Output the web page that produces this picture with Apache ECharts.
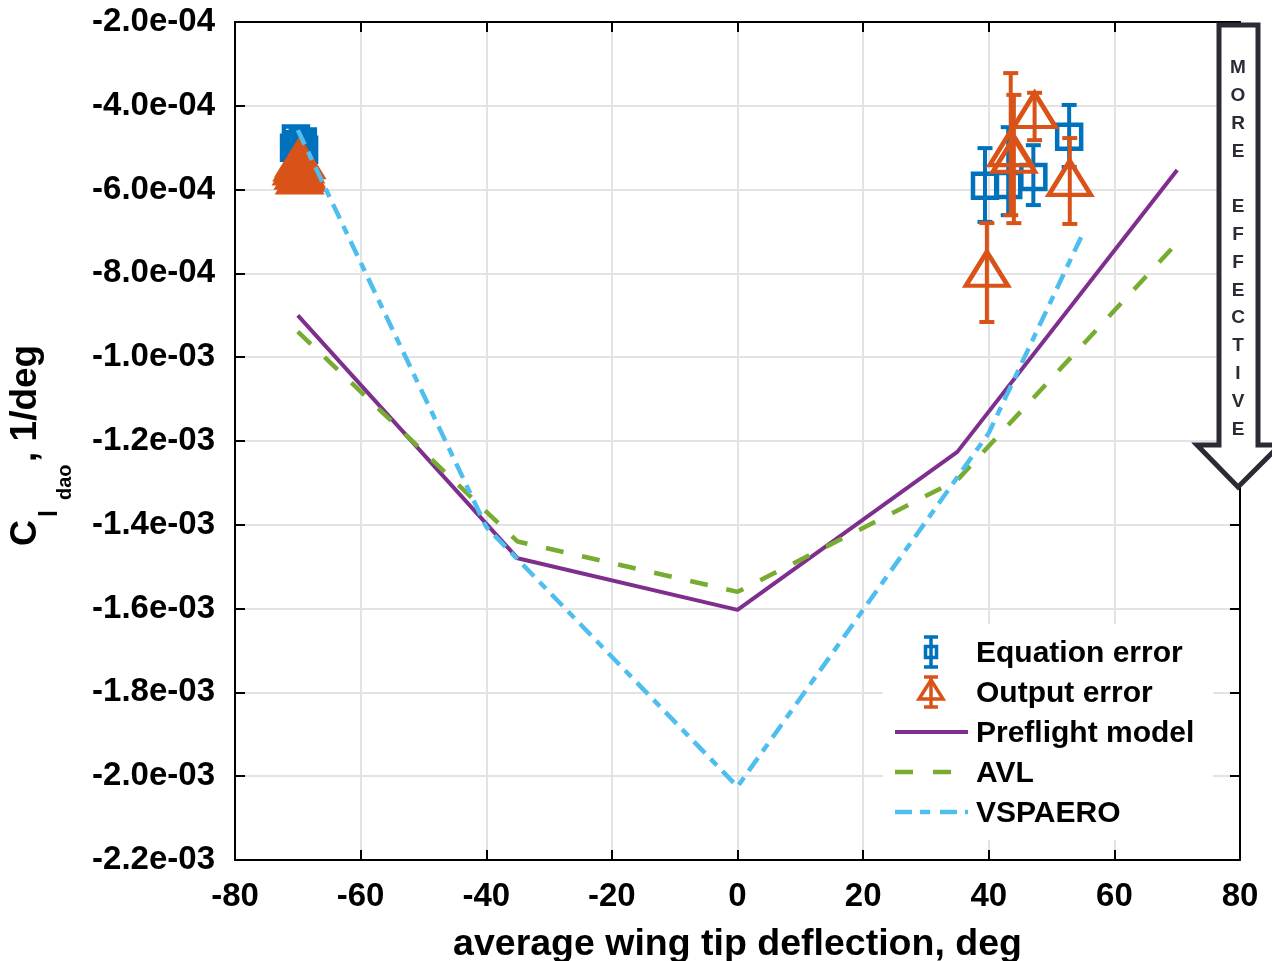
<!DOCTYPE html>
<html><head><meta charset="utf-8">
<script src="https://cdn.jsdelivr.net/npm/echarts@6/dist/echarts.min.js"></script>
<style>html,body{margin:0;padding:0;background:#fff}#c{width:1272px;height:961px}</style>
</head><body><div id="c"></div>
<script>
// ---- data ----
const yTickLabels = ['-2.2e-03','-2.0e-03','-1.8e-03','-1.6e-03','-1.4e-03','-1.2e-03','-1.0e-03','-8.0e-04','-6.0e-04','-4.0e-04','-2.0e-04'];
const xTickLabels = ['-80','-60','-40','-20','0','20','40','60','80'];

const preflightX = [-70, -35, 0, 35, 70];
const preflightY = [-9.0e-4, -1.48e-3, -1.603e-3, -1.226e-3, -5.53e-4];

const avlX = [-70, -35, 0, 35, 70];
const avlY = [-9.39e-4, -1.44e-3, -1.56e-3, -1.293e-3, -7.27e-4];

const vspX = [-70, -40, 0, 40, 55];
const vspY = [-4.58e-4, -1.405e-3, -2.025e-3, -1.181e-3, -7.04e-4];

const eqX  = [-70.3, -69.2, -69.8, -70.6, -69.0, -69.6, -70.1, -69.4, 39.4, 43.1, 47.1, 52.8];
const eqY  = [-4.78e-4, -4.85e-4, -4.92e-4, -5.00e-4, -5.05e-4, -5.12e-4, -5.18e-4, -5.25e-4, -5.91e-4, -5.89e-4, -5.70e-4, -4.74e-4];
const eqLo = [-4.84e-4, -4.91e-4, -4.98e-4, -5.06e-4, -5.11e-4, -5.18e-4, -5.24e-4, -5.31e-4, -6.77e-4, -6.61e-4, -6.37e-4, -5.46e-4];
const eqHi = [-4.72e-4, -4.79e-4, -4.86e-4, -4.94e-4, -4.99e-4, -5.06e-4, -5.12e-4, -5.19e-4, -5.01e-4, -4.51e-4, -4.94e-4, -3.98e-4];

const outX  = [-69.8, -69.4, -70.1, -69.6, -70.2, -69.5, -69.9, -69.3, -69.7, 39.7, 43.5, 44.0, 47.3, 52.9];
const outY  = [-5.25e-4, -5.30e-4, -5.35e-4, -5.40e-4, -5.45e-4, -5.50e-4, -5.55e-4, -5.60e-4, -5.66e-4, -7.89e-4, -5.01e-4, -5.17e-4, -4.10e-4, -5.72e-4];
const outLo = [-5.31e-4, -5.36e-4, -5.41e-4, -5.46e-4, -5.51e-4, -5.56e-4, -5.61e-4, -5.66e-4, -5.72e-4, -9.16e-4, -6.61e-4, -6.80e-4, -4.82e-4, -6.82e-4];
const outHi = [-5.19e-4, -5.24e-4, -5.29e-4, -5.34e-4, -5.39e-4, -5.44e-4, -5.49e-4, -5.54e-4, -5.60e-4, -6.80e-4, -3.22e-4, -3.74e-4, -3.69e-4, -4.77e-4];

// ---- styles ----
const FONT = "'Liberation Sans', Arial, Helvetica, sans-serif";
const C_EQ = '#0072BD', C_OUT = '#D95319', C_PRE = '#7E2F8E', C_AVL = '#77AC30', C_VSP = '#4DBEEE';

function pairs(xs, ys){ return xs.map((x,i)=>[x, ys[i]]); }
function triples(xs, lo, hi){ return xs.map((x,i)=>[x, lo[i], hi[i]]); }

function errRender(color){
  return function(params, api){
    const x = api.value(0), lo = api.value(1), hi = api.value(2);
    const a = api.coord([x, lo]), b = api.coord([x, hi]);
    const w = 7.5;
    const st = {stroke: color, lineWidth: 4};
    return {type:'group', children:[
      {type:'line', shape:{x1:a[0], y1:a[1], x2:b[0], y2:b[1]}, style:st},
      {type:'line', shape:{x1:a[0]-w, y1:a[1], x2:a[0]+w, y2:a[1]}, style:st},
      {type:'line', shape:{x1:b[0]-w, y1:b[1], x2:b[0]+w, y2:b[1]}, style:st}
    ]};
  };
}

const axisCommon = {
  axisLine: {show:true, onZero:false, lineStyle:{color:'#000', width:2}},
  axisTick: {show:true, inside:true, length:10, lineStyle:{color:'#000', width:2}},
};

const chart = echarts.init(document.getElementById('c'), null, {renderer:'canvas'});

const legendX = 895, legendTextX = 976, rows = [652, 692, 732, 772, 812];

const option = {
  animation: false,
  backgroundColor: '#fff',
  grid: {left:235, right:32, top:22, bottom:101, containLabel:false, outerBoundsMode:'none'},
  xAxis: [
    Object.assign({}, axisCommon, {
      type:'value', min:-80, max:80, interval:20, position:'bottom',
      axisLabel:{show:true, color:'#000', fontFamily:FONT, fontWeight:'bold', fontSize:33, margin:20,
        formatter:(v,i)=> xTickLabels[i] !== undefined ? xTickLabels[i] : String(v)},
      splitLine:{show:true, lineStyle:{color:'#e3e3e3', width:2}},
      name:'average wing tip deflection, deg', nameLocation:'middle', nameGap:66,
      nameTextStyle:{color:'#000', fontFamily:FONT, fontWeight:'bold', fontSize:37.5}
    }),
    Object.assign({}, axisCommon, {
      type:'value', min:-80, max:80, interval:20, position:'top',
      axisLabel:{show:false}, splitLine:{show:false}
    })
  ],
  yAxis: [
    Object.assign({}, axisCommon, {
      type:'value', min:-2.2e-3, max:-2e-4, interval:2e-4, position:'left',
      axisLabel:{show:true, color:'#000', fontFamily:FONT, fontWeight:'bold', fontSize:33, margin:20,
        formatter:(v,i)=> yTickLabels[i] !== undefined ? yTickLabels[i] : String(v)},
      splitLine:{show:true, lineStyle:{color:'#e3e3e3', width:2}}
    }),
    Object.assign({}, axisCommon, {
      type:'value', min:-2.2e-3, max:-2e-4, interval:2e-4, position:'right',
      axisLabel:{show:false}, splitLine:{show:false}
    })
  ],
  series: [
    {type:'custom', name:'Equation error bars', renderItem: errRender(C_EQ),
      data: triples(eqX, eqLo, eqHi), encode:{x:0, y:[1,2]}, z:2, silent:true},
    {type:'scatter', name:'Equation error', data: pairs(eqX, eqY), symbol:'rect', symbolSize:24,
      itemStyle:{color:'rgba(0,0,0,0)', borderColor:C_EQ, borderWidth:4.5, opacity:1}, z:3, silent:true},
    {type:'custom', name:'Output error bars', renderItem: errRender(C_OUT),
      data: triples(outX, outLo, outHi), encode:{x:0, y:[1,2]}, z:4, silent:true},
    {type:'scatter', name:'Output error', data: pairs(outX, outY), symbol:'triangle', symbolSize:[42,34],
      itemStyle:{color:'rgba(0,0,0,0)', borderColor:C_OUT, borderWidth:4.5, opacity:1}, z:5, silent:true},
    {type:'line', name:'Preflight model', data: pairs(preflightX, preflightY), symbol:'none',
      lineStyle:{color:C_PRE, width:4}, z:6, silent:true},
    {type:'line', name:'AVL', data: pairs(avlX, avlY), symbol:'none',
      lineStyle:{color:C_AVL, width:4.5, type:[18,19], cap:'butt'}, z:7, silent:true},
    {type:'line', name:'VSPAERO', data: pairs(vspX, vspY), symbol:'none',
      lineStyle:{color:C_VSP, width:4.5, type:[16,8,9,8], cap:'butt'}, z:8, silent:true}
  ],
  graphic: [
    // y axis title
    {type:'text', x:26, y:546, rotation:Math.PI/2, z:100,
      style:{text:'C', font:`bold 36px ${FONT}`, fill:'#000', textAlign:'left', textVerticalAlign:'middle'}},
    {type:'text', x:50, y:517, rotation:Math.PI/2, z:100,
      style:{text:'l', font:`bold 25px ${FONT}`, fill:'#000', textAlign:'left', textVerticalAlign:'middle'}},
    {type:'text', x:65, y:500, rotation:Math.PI/2, z:100,
      style:{text:'dao', font:`bold 20px ${FONT}`, fill:'#000', textAlign:'left', textVerticalAlign:'middle'}},
    {type:'text', x:26, y:462, rotation:Math.PI/2, z:100,
      style:{text:', 1/deg', font:`bold 37px ${FONT}`, fill:'#000', textAlign:'left', textVerticalAlign:'middle'}},
    // legend
    {type:'rect', shape:{x:883, y:624, width:330, height:216}, style:{fill:'#fff'}, z:100, silent:true},
    {type:'group', z:101, children:[
      {type:'line', shape:{x1:931,y1:637,x2:931,y2:667}, style:{stroke:C_EQ, lineWidth:3.5}, z:101},
      {type:'line', shape:{x1:924,y1:637,x2:938,y2:637}, style:{stroke:C_EQ, lineWidth:3.5}, z:101},
      {type:'line', shape:{x1:924,y1:667,x2:938,y2:667}, style:{stroke:C_EQ, lineWidth:3.5}, z:101},
      {type:'rect', shape:{x:925.5,y:646.5,width:11,height:11}, style:{stroke:C_EQ, fill:'none', lineWidth:3.5}, z:101},
      {type:'line', shape:{x1:931,y1:677,x2:931,y2:707}, style:{stroke:C_OUT, lineWidth:3.5}, z:101},
      {type:'line', shape:{x1:924,y1:677,x2:938,y2:677}, style:{stroke:C_OUT, lineWidth:3.5}, z:101},
      {type:'line', shape:{x1:924,y1:707,x2:938,y2:707}, style:{stroke:C_OUT, lineWidth:3.5}, z:101},
      {type:'polygon', shape:{points:[[931,680],[943,699],[919,699]]}, style:{stroke:C_OUT, fill:'none', lineWidth:3.5}, z:101},
      {type:'line', shape:{x1:legendX,y1:rows[2],x2:968,y2:rows[2]}, style:{stroke:C_PRE, lineWidth:4}, z:101},
      {type:'line', shape:{x1:legendX,y1:rows[3],x2:968,y2:rows[3]}, style:{stroke:C_AVL, lineWidth:4.5, lineDash:[18,20]}, z:101},
      {type:'line', shape:{x1:legendX,y1:rows[4],x2:968,y2:rows[4]}, style:{stroke:C_VSP, lineWidth:4.5, lineDash:[17,8,10,10]}, z:101},
      {type:'text', x:legendTextX, y:rows[0]+2, style:{text:'Equation error', font:`bold 30px ${FONT}`, fill:'#000', textVerticalAlign:'middle'}, z:101},
      {type:'text', x:legendTextX, y:rows[1]+2, style:{text:'Output error', font:`bold 30px ${FONT}`, fill:'#000', textVerticalAlign:'middle'}, z:101},
      {type:'text', x:legendTextX, y:rows[2]+2, style:{text:'Preflight model', font:`bold 30px ${FONT}`, fill:'#000', textVerticalAlign:'middle'}, z:101},
      {type:'text', x:legendTextX, y:rows[3]+2, style:{text:'AVL', font:`bold 30px ${FONT}`, fill:'#000', textVerticalAlign:'middle'}, z:101},
      {type:'text', x:legendTextX, y:rows[4]+2, style:{text:'VSPAERO', font:`bold 30px ${FONT}`, fill:'#000', textVerticalAlign:'middle'}, z:101}
    ]},
    // arrow
    {type:'polygon', z:110, silent:true,
      shape:{points:[[1219,25],[1258,25],[1258,445],[1280,445],[1238,487],[1197,445],[1219,445]]},
      style:{fill:'#fff', stroke:'#2b2b36', lineWidth:5, lineJoin:'miter'}},
    {type:'text', x:1238, y:54, z:111,
      style:{text:'M\nO\nR\nE\n\nE\nF\nF\nE\nC\nT\nI\nV\nE', font:`bold 19px ${FONT}`, fill:'#2b2b36',
        textAlign:'center', textVerticalAlign:'top', lineHeight:27.8}}
  ]
};
chart.setOption(option);
</script>
</body></html>
